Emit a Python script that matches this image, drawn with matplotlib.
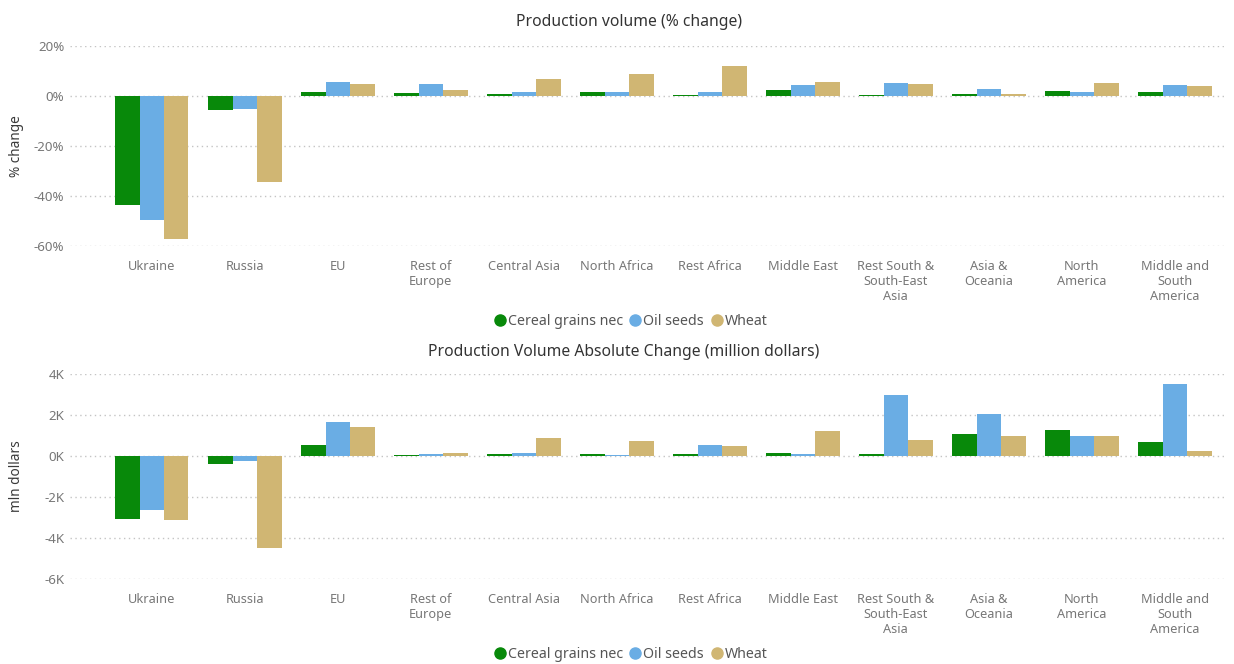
import numpy as np
import matplotlib
matplotlib.use("Agg")
import matplotlib.pyplot as plt
from matplotlib.ticker import FuncFormatter
from matplotlib.lines import Line2D

plt.rcParams['font.family'] = ['Noto Sans', 'DejaVu Sans']

regions = ["Ukraine", "Russia", "EU", "Rest of\nEurope", "Central Asia", "North Africa",
           "Rest Africa", "Middle East", "Rest South &\nSouth-East\nAsia", "Asia &\nOceania",
           "North\nAmerica", "Middle and\nSouth\nAmerica"]
series = ["Cereal grains nec", "Oil seeds", "Wheat"]

# % change in production volume
pct_cereal = [-43.5, -5.7, 1.7, 1.1, 0.9, 1.7, 0.4, 2.6, 0.5, 0.8, 2.0, 1.5]
pct_oil = [-49.5, -5.3, 5.8, 4.7, 1.6, 1.6, 1.7, 4.5, 5.1, 2.8, 1.8, 4.5]
pct_wheat = [-57.0, -34.2, 4.7, 2.6, 7.0, 8.7, 11.9, 5.7, 4.7, 1.0, 5.4, 4.2]

# absolute change, million dollars
abs_cereal = [-3060, -370, 520, 50, 80, 80, 80, 150, 80, 1050, 1260, 660]
abs_oil = [-2630, -240, 1660, 110, 130, 50, 520, 100, 3000, 2050, 1000, 3500]
abs_wheat = [-3110, -4480, 1420, 150, 870, 710, 500, 1240, 760, 1000, 980, 260]

colors = ['#08890a', '#6aade4', '#d0b673']
grid_col = '#c4c4c4'
tick_col = '#777777'


def draw_panel(ax, values, ylim, yticks, fmt, ylabel):
    x = np.arange(len(regions))
    w = 0.263
    for i, (vals, c) in enumerate(zip(values, colors)):
        ax.bar(x + (i - 1) * w, vals, width=w, color=c, zorder=2)
    ax.set_xlim(-0.88, 11.53)
    ax.set_ylim(*ylim)
    ax.set_yticks(yticks)
    ax.yaxis.set_major_formatter(FuncFormatter(fmt))
    ax.set_xticks(x)
    ax.set_xticklabels(regions, fontsize=9.2, color=tick_col, linespacing=1.2, va='top')
    ax.tick_params(axis='both', length=0, labelcolor=tick_col)
    ax.tick_params(axis='y', labelsize=9.6, pad=4)
    ax.tick_params(axis='x', pad=10)
    for s in ax.spines.values():
        s.set_visible(False)
    ax.grid(axis='y', color=grid_col, linestyle=(0, (1, 2.5)), linewidth=1, zorder=0)
    ax.set_ylabel(ylabel, fontsize=9.8, color='#3a3a3a', fontweight='medium')
    ax.yaxis.set_label_coords(-0.04, 0.5)


def legend(fig, y):
    handles = [Line2D([], [], marker='o', linestyle='', markersize=8, color=c) for c in colors]
    fig.legend(handles, series, loc='center', bbox_to_anchor=(0.511, y), ncol=3, frameon=False,
               fontsize=10.2, labelcolor='#555555', handlelength=0.8, handletextpad=0.15,
               columnspacing=0.5, borderpad=0)


fig = plt.figure(figsize=(12.34, 6.64), dpi=100)
ax1 = fig.add_axes([0.0567, 0.6295, 0.9353, 0.3012])
ax2 = fig.add_axes([0.0567, 0.128, 0.9353, 0.3087])

draw_panel(ax1, [pct_cereal, pct_oil, pct_wheat], (-60, 20), [-60, -40, -20, 0, 20],
           lambda v, p: f"{v:.0f}%", "% change")
draw_panel(ax2, [abs_cereal, abs_oil, abs_wheat], (-6000, 4000), [-6000, -4000, -2000, 0, 2000, 4000],
           lambda v, p: f"{v / 1000:.0f}K", "mln dollars")

fig.text(0.51, 0.967, "Production volume (% change)", ha='center', va='center', fontsize=11.3, color='#333333')
fig.text(0.505, 0.47, "Production Volume Absolute Change (million dollars)", ha='center', va='center',
         fontsize=11.3, color='#333333')

legend(fig, 0.516)
legend(fig, 0.014)

fig.savefig("out.png", dpi=100, facecolor='white')
